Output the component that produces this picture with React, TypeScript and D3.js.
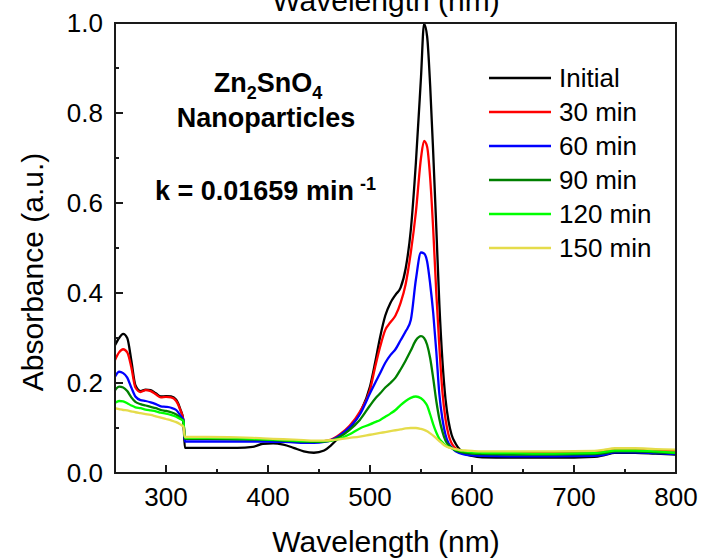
import React from "react";
import * as d3 from "d3";

// ---- Data ----
const wavelengths = [250, 254, 258, 262, 266, 270, 275, 280, 285, 290, 295, 300, 305, 310, 314, 317, 318.5, 340, 370, 385, 395, 405, 415, 425, 435, 445, 455, 462, 470, 480, 490, 500, 505, 510, 515, 520, 525, 530, 535, 540, 545, 550, 553, 556, 559, 562, 565, 568, 571, 574, 577, 580, 584, 588, 593, 600, 610, 640, 680, 720, 730, 740, 760, 780, 800];

const initial = [0.284, 0.300, 0.309, 0.300, 0.250, 0.195, 0.182, 0.185, 0.184, 0.177, 0.170, 0.171, 0.170, 0.163, 0.142, 0.118, 0.056, 0.056, 0.056, 0.058, 0.065, 0.066, 0.063, 0.056, 0.048, 0.045, 0.050, 0.062, 0.080, 0.100, 0.133, 0.192, 0.245, 0.303, 0.350, 0.378, 0.396, 0.412, 0.455, 0.540, 0.690, 0.880, 0.998, 0.970, 0.860, 0.710, 0.545, 0.375, 0.250, 0.165, 0.115, 0.085, 0.065, 0.052, 0.043, 0.038, 0.035, 0.034, 0.034, 0.036, 0.040, 0.045, 0.045, 0.043, 0.041];
const min30 = [0.251, 0.268, 0.275, 0.268, 0.235, 0.190, 0.180, 0.184, 0.182, 0.175, 0.168, 0.169, 0.168, 0.160, 0.140, 0.118, 0.078, 0.078, 0.077, 0.076, 0.075, 0.074, 0.073, 0.072, 0.071, 0.070, 0.071, 0.074, 0.085, 0.105, 0.136, 0.185, 0.235, 0.281, 0.318, 0.335, 0.350, 0.378, 0.420, 0.490, 0.580, 0.700, 0.738, 0.725, 0.655, 0.540, 0.400, 0.280, 0.180, 0.120, 0.085, 0.066, 0.055, 0.050, 0.048, 0.047, 0.046, 0.045, 0.045, 0.046, 0.049, 0.053, 0.053, 0.051, 0.050];
const min60 = [0.214, 0.225, 0.222, 0.212, 0.190, 0.170, 0.162, 0.160, 0.157, 0.153, 0.148, 0.147, 0.145, 0.140, 0.128, 0.118, 0.070, 0.070, 0.070, 0.070, 0.070, 0.069, 0.069, 0.068, 0.067, 0.067, 0.069, 0.073, 0.083, 0.102, 0.130, 0.177, 0.200, 0.222, 0.245, 0.262, 0.275, 0.295, 0.315, 0.340, 0.430, 0.490, 0.488, 0.470, 0.420, 0.355, 0.270, 0.175, 0.120, 0.085, 0.066, 0.057, 0.048, 0.044, 0.041, 0.039, 0.038, 0.037, 0.037, 0.038, 0.041, 0.046, 0.046, 0.044, 0.042];
const min90 = [0.184, 0.192, 0.190, 0.182, 0.168, 0.158, 0.153, 0.150, 0.147, 0.144, 0.140, 0.138, 0.135, 0.130, 0.122, 0.115, 0.076, 0.076, 0.075, 0.074, 0.074, 0.073, 0.072, 0.071, 0.070, 0.069, 0.070, 0.072, 0.080, 0.096, 0.118, 0.150, 0.165, 0.177, 0.190, 0.200, 0.212, 0.230, 0.250, 0.272, 0.295, 0.304, 0.300, 0.285, 0.255, 0.210, 0.160, 0.120, 0.092, 0.072, 0.062, 0.056, 0.050, 0.047, 0.045, 0.043, 0.042, 0.041, 0.041, 0.042, 0.044, 0.048, 0.048, 0.046, 0.044];
const min120 = [0.156, 0.160, 0.159, 0.155, 0.150, 0.146, 0.144, 0.141, 0.139, 0.137, 0.134, 0.132, 0.129, 0.125, 0.120, 0.116, 0.078, 0.078, 0.077, 0.076, 0.075, 0.074, 0.073, 0.072, 0.071, 0.071, 0.071, 0.072, 0.076, 0.086, 0.099, 0.108, 0.113, 0.118, 0.125, 0.132, 0.140, 0.151, 0.160, 0.167, 0.170, 0.166, 0.160, 0.150, 0.130, 0.108, 0.090, 0.076, 0.068, 0.062, 0.058, 0.055, 0.052, 0.050, 0.048, 0.046, 0.045, 0.044, 0.043, 0.044, 0.047, 0.050, 0.050, 0.048, 0.045];
const min150 = [0.144, 0.142, 0.140, 0.139, 0.137, 0.135, 0.133, 0.131, 0.129, 0.126, 0.123, 0.120, 0.117, 0.113, 0.108, 0.103, 0.080, 0.080, 0.079, 0.078, 0.077, 0.076, 0.075, 0.074, 0.073, 0.072, 0.072, 0.073, 0.075, 0.078, 0.081, 0.085, 0.087, 0.089, 0.091, 0.093, 0.095, 0.097, 0.099, 0.100, 0.100, 0.098, 0.096, 0.093, 0.088, 0.083, 0.077, 0.071, 0.065, 0.060, 0.057, 0.055, 0.053, 0.051, 0.050, 0.049, 0.048, 0.048, 0.048, 0.049, 0.052, 0.055, 0.055, 0.053, 0.052];

const seriesNames = ["Initial", "30 min", "60 min", "90 min", "120 min", "150 min"];
const seriesValues = [initial, min30, min60, min90, min120, min150];
const seriesColors = ["#000000", "#ff0000", "#0000ff", "#007f00", "#00ff00", "#e5dc4b"];

const xMajorTicks = [300, 400, 500, 600, 700, 800];
const xMinorTicks = [250, 350, 450, 550, 650, 750];
const yMajorTicks = [0, 0.2, 0.4, 0.6, 0.8, 1.0];
const yMinorTicks = [0.1, 0.3, 0.5, 0.7, 0.9];

const W = 702;
const H = 559;
const M = { left: 115, right: 26, top: 23, bottom: 86 };
const FONT = "Arial, 'Liberation Sans', Helvetica, sans-serif";

export default function App() {
  const x = d3.scaleLinear().domain([250, 800]).range([M.left, W - M.right]);
  const y = d3.scaleLinear().domain([0, 1.0]).range([H - M.bottom, M.top]);
  const line = d3
    .line<[number, number]>()
    .x((d) => x(d[0]))
    .y((d) => y(d[1]))
    .curve(d3.curveMonotoneX);

  const x0 = M.left;
  const x1 = W - M.right;
  const y0 = H - M.bottom;
  const y1 = M.top;
  const titleX = 386;

  return (
    <svg
      width={W}
      height={H}
      style={{ position: "absolute", left: 0, top: 0, background: "#fff" }}
      fontFamily={FONT}
    >
      <rect x={0} y={0} width={W} height={H} fill="#fff" />
      <defs>
        <clipPath id="plotclip">
          <rect x={x0} y={y1} width={x1 - x0} height={y0 - y1} />
        </clipPath>
      </defs>

      {/* series */}
      <g clipPath="url(#plotclip)">
        {seriesValues.map((vals, i) => (
          <path
            key={seriesNames[i]}
            d={line(wavelengths.map((w, j) => [w, vals[j]] as [number, number])) || ""}
            fill="none"
            stroke={seriesColors[i]}
            strokeWidth={2.3}
            strokeLinejoin="round"
          />
        ))}
      </g>

      {/* frame */}
      <rect x={x0} y={y1} width={x1 - x0} height={y0 - y1} fill="none" stroke="#1a1a1a" strokeWidth={2} />

      {/* x ticks (inward) */}
      {xMajorTicks.map((t) => (
        <g key={"xm" + t}>
          <line x1={x(t)} x2={x(t)} y1={y0} y2={y0 - 8} stroke="#1a1a1a" strokeWidth={2} />
          <text x={x(t)} y={y0 + 33} textAnchor="middle" fontSize={26} fill="#000">
            {t}
          </text>
        </g>
      ))}
      {xMinorTicks.map((t) => (
        <line key={"xn" + t} x1={x(t)} x2={x(t)} y1={y0} y2={y0 - 4} stroke="#1a1a1a" strokeWidth={2} />
      ))}

      {/* y ticks (inward) */}
      {yMajorTicks.map((t) => (
        <g key={"ym" + t}>
          <line x1={x0} x2={x0 + 8} y1={y(t)} y2={y(t)} stroke="#1a1a1a" strokeWidth={2} />
          <text x={x0 - 12} y={y(t)} dy="0.35em" textAnchor="end" fontSize={26} fill="#000">
            {t.toFixed(1)}
          </text>
        </g>
      ))}
      {yMinorTicks.map((t) => (
        <line key={"yn" + t} x1={x0} x2={x0 + 4} y1={y(t)} y2={y(t)} stroke="#1a1a1a" strokeWidth={2} />
      ))}

      {/* axis titles */}
      <text x={titleX} y={H - 7} textAnchor="middle" fontSize={30} fill="#000">
        Wavelength (nm)
      </text>
      <text x={titleX} y={11} textAnchor="middle" fontSize={30} fill="#000">
        Wavelength (nm)
      </text>
      <text
        transform={`translate(${32},${272}) rotate(-90)`}
        textAnchor="middle"
        dy="0.35em"
        fontSize={30}
        fill="#000"
      >
        Absorbance (a.u.)
      </text>

      {/* annotation */}
      <text x={268} y={92} textAnchor="middle" fontSize={27} fontWeight="bold" fill="#000">
        Zn<tspan fontSize={18} dy={7}>2</tspan>
        <tspan dy={-7}>SnO</tspan>
        <tspan fontSize={18} dy={7}>4</tspan>
      </text>
      <text x={266} y={127} textAnchor="middle" fontSize={27} fontWeight="bold" fill="#000">
        Nanoparticles
      </text>
      <text x={155} y={200} fontSize={27} fontWeight="bold" fill="#000">
        k = 0.01659 min
        <tspan fontSize={18} dx={6} dy={-10}>-1</tspan>
      </text>

      {/* legend */}
      {seriesNames.map((name, i) => {
        const ly = 78 + i * 34;
        return (
          <g key={"lg" + name}>
            <line x1={489} x2={551} y1={ly} y2={ly} stroke={seriesColors[i]} strokeWidth={2.5} />
            <text x={559} y={ly} dy="0.35em" fontSize={26} fill="#000">
              {name}
            </text>
          </g>
        );
      })}
    </svg>
  );
}
